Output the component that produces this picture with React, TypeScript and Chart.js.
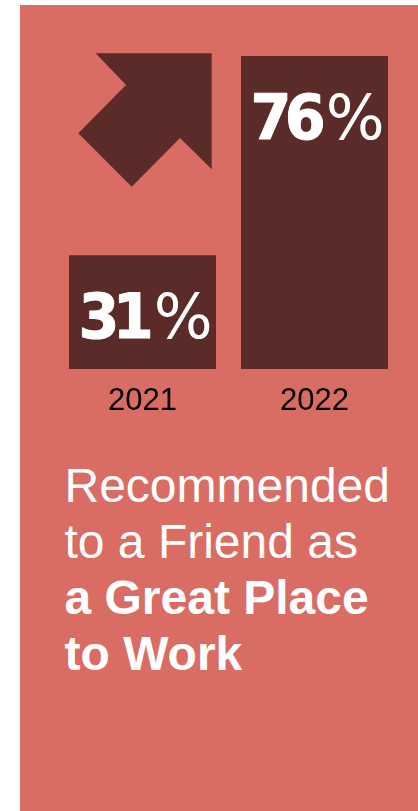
import React, { useEffect, useRef } from "react";
import { Chart, registerables } from "chart.js";

Chart.register(...registerables);

// ---- data ----
const categories = ["2021", "2022"];
const values = [31, 76];
const unitSuffix = "%";
const captionRegular = ["Recommended", "to a Friend as"];
const captionBold = ["a Great Place", "to Work"];

// ---- style ----
const BG = "#D96C63";
const BAR = "#5A2B28";

export default function App() {
  const canvasRef = useRef<HTMLCanvasElement>(null);

  useEffect(() => {
    if (!canvasRef.current) return;

    const arrowPlugin = {
      id: "arrowDecoration",
      beforeDatasetsDraw(chart: any) {
        const ctx = chart.ctx;
        const pts = [
          [75.7, 48.3],
          [191.7, 48.3],
          [191.7, 164.3],
          [160, 133],
          [111.7, 181.7],
          [58.3, 128.3],
          [106, 80],
        ];
        ctx.save();
        ctx.beginPath();
        pts.forEach((p, i) => (i ? ctx.lineTo(p[0], p[1]) : ctx.moveTo(p[0], p[1])));
        ctx.closePath();
        ctx.fillStyle = BAR;
        ctx.fill();
        ctx.restore();
      },
    };

    const labelPlugin = {
      id: "valueLabels",
      afterDatasetsDraw(chart: any) {
        const ctx = chart.ctx;
        const meta = chart.getDatasetMeta(0);
        const sx = 0.95;
        const tighten = 7;
        const boldFont = "bold 62px 'DejaVu Sans', Verdana, sans-serif";
        const regFont = "62px 'DejaVu Sans', Verdana, sans-serif";
        meta.data.forEach((bar: any, i: number) => {
          const chars = String(values[i]).split("");
          ctx.save();
          ctx.font = boldFont;
          const adv = chars.map((c, k) => {
            const w = ctx.measureText(c).width;
            return (k < chars.length - 1 ? w - tighten : w) * sx;
          });
          const nw = adv.reduce((a, b) => a + b, 0);
          ctx.font = regFont;
          const pw = ctx.measureText(unitSuffix).width;
          const x0 = bar.x - (nw + pw) / 2 + 3;
          const y = bar.y + 83;
          ctx.fillStyle = "#ffffff";
          ctx.strokeStyle = "#ffffff";
          ctx.lineJoin = "round";
          ctx.textBaseline = "alphabetic";
          ctx.textAlign = "left";
          let cx = x0;
          chars.forEach((c, k) => {
            ctx.save();
            ctx.translate(cx, y);
            ctx.scale(sx, 1);
            ctx.font = boldFont;
            ctx.lineWidth = 1;
            ctx.fillText(c, 0, 0);
            ctx.strokeText(c, 0, 0);
            ctx.restore();
            cx += adv[k];
          });
          ctx.font = regFont;
          ctx.fillText(unitSuffix, x0 + nw, y);
          ctx.restore();
        });
      },
    };

    const chart = new Chart(canvasRef.current, {
      type: "bar",
      data: {
        labels: categories,
        datasets: [
          {
            data: values,
            backgroundColor: BAR,
            borderWidth: 0,
            barPercentage: 147 / 172,
            categoryPercentage: 1,
          },
        ],
      },
      options: {
        animation: false,
        responsive: true,
        maintainAspectRatio: false,
        layout: { padding: { top: 51, left: 36.5, right: 17.5, bottom: 10.8 } },
        plugins: {
          legend: { display: false },
          tooltip: { enabled: false },
        },
        scales: {
          x: {
            grid: { display: false, drawTicks: false },
            border: { display: false },
            ticks: {
              color: "#000000",
              padding: 14,
              font: { family: "'Liberation Sans', Arial, sans-serif", size: 31 },
            },
          },
          y: {
            display: false,
            min: 5.35,
            max: 76,
          },
        },
      },
      plugins: [arrowPlugin, labelPlugin],
    });

    return () => chart.destroy();
  }, []);

  return (
    <div
      style={{
        position: "absolute",
        left: 20,
        top: 5,
        width: 398,
        height: 806,
        background: BG,
        overflow: "hidden",
      }}
    >
      <div style={{ position: "absolute", left: 0, top: 0, width: 398, height: 440 }}>
        <canvas ref={canvasRef} />
      </div>
      <div
        style={{
          position: "absolute",
          left: 44.5,
          top: 453.4,
          color: "#ffffff",
          fontFamily: "'Liberation Sans', Arial, sans-serif",
          fontSize: 48,
          lineHeight: "56px",
          whiteSpace: "nowrap",
        }}
      >
        {captionRegular.map((t) => (
          <div key={t}>{t}</div>
        ))}
        {captionBold.map((t) => (
          <div key={t} style={{ fontWeight: "bold" }}>
            {t}
          </div>
        ))}
      </div>
    </div>
  );
}
